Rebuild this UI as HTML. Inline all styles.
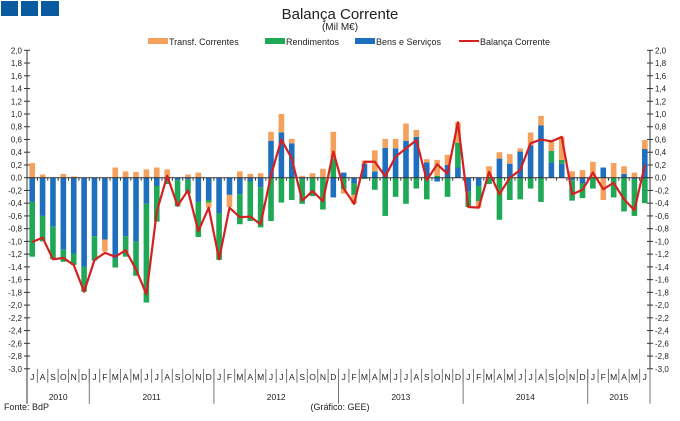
<!DOCTYPE html>
<html><head><meta charset="utf-8"><style>
body{margin:0;background:#fff;width:680px;height:416px;overflow:hidden;font-family:"Liberation Sans",sans-serif}
svg text{font-family:"Liberation Sans",sans-serif}
</style></head><body>
<svg id="c" width="680" height="416" xmlns="http://www.w3.org/2000/svg">
<g>
<rect x="1" y="1" width="17" height="15" fill="#0a5aa0"/><rect x="21" y="1" width="17" height="15" fill="#0a5aa0"/><rect x="41" y="1" width="18" height="15" fill="#0a5aa0"/>
</g>
<text x="340" y="19" font-size="15" text-anchor="middle" fill="#222">Balança Corrente</text>
<text x="340" y="30" font-size="10" text-anchor="middle" fill="#222">(Mil M€)</text>
<g font-size="9" fill="#222">
<g><rect x="148" y="38" width="20" height="6" fill="#f4a15e"/><text x="169" y="45">Transf. Correntes</text></g>
<g><rect x="265" y="38" width="20" height="6" fill="#1fa855"/><text x="286" y="45">Rendimentos</text></g>
<g><rect x="355" y="38" width="20" height="6" fill="#1f6fbf"/><text x="376" y="45">Bens e Serviços</text></g>
<g><rect x="459" y="40" width="20" height="2" fill="#d42020"/><text x="480" y="45">Balança Corrente</text></g>
</g>
<g id="plot"></g>
<text x="4" y="410" font-size="9" fill="#222">Fonte: BdP</text>
<text x="340" y="410" font-size="9" text-anchor="middle" fill="#222">(Gráfico: GEE)</text>
</svg>
<script>
const months=["J","A","S","O","N","D","J","F","M","A","M","J","J","A","S","O","N","D","J","F","M","A","M","J","J","A","S","O","N","D","J","F","M","A","M","J","J","A","S","O","N","D","J","F","M","A","M","J","J","A","S","O","N","D","J","F","M","A","M","J"];
const years=["2010","2011","2012","2013","2014","2015"];
const bens=[-0.38,-0.6,-0.77,-1.13,-1.19,-1.4,-0.92,-0.97,-1.27,-0.92,-1.0,-0.41,-0.13,-0.05,-0.04,-0.03,-0.38,-0.35,-0.56,-0.27,-0.26,-0.06,-0.15,0.58,0.71,0.54,-0.02,0.0,0.0,-0.31,0.08,-0.09,0.22,0.1,0.47,0.46,0.58,0.64,0.24,-0.06,0.2,0.16,-0.22,-0.13,0.0,0.3,0.22,0.41,0.51,0.82,0.24,0.22,-0.04,-0.09,0.0,0.16,0.0,0.06,-0.02,0.45];
const rend=[-0.86,-0.4,-0.51,-0.19,-0.18,-0.39,-0.38,0,-0.14,-0.32,-0.54,-1.55,-0.56,-0.05,-0.41,-0.22,-0.55,-0.04,-0.73,0,-0.47,-0.62,-0.63,-0.68,-0.39,-0.35,-0.39,-0.29,-0.5,0.3,-0.18,-0.18,-0.02,-0.19,-0.6,-0.3,-0.41,-0.17,-0.34,0.03,-0.3,0.39,-0.24,-0.24,-0.1,-0.66,-0.35,-0.34,-0.17,-0.38,0.18,0.06,-0.32,-0.23,-0.17,0,-0.31,-0.53,-0.58,-0.4];
const transf=[0.23,0.05,0,0.06,0.02,0,0,-0.19,0.16,0.1,0.09,0.13,0.16,0.13,0,0.05,0.08,-0.08,0,-0.19,0.1,0.06,0.07,0.14,0.29,0.07,0.03,0.07,0.14,0.42,-0.07,-0.14,0.05,0.33,0.14,0.15,0.27,0.11,0.05,0.25,0.16,0.32,0,-0.1,0.18,0.1,0.15,0.05,0.2,0.15,0.15,0.36,0.1,0.12,0.25,-0.35,0.23,0.12,0.08,0.14];
const balanca=[-1.01,-0.94,-1.28,-1.26,-1.37,-1.79,-1.29,-1.18,-1.24,-1.14,-1.44,-1.83,-0.53,0.03,-0.44,-0.2,-0.84,-0.47,-1.28,-0.47,-0.62,-0.61,-0.73,0.04,0.6,0.3,-0.36,-0.21,-0.37,0.41,-0.17,-0.41,0.25,0.25,0.02,0.33,0.46,0.59,-0.04,0.21,0.06,0.87,-0.46,-0.47,0.09,-0.26,0.0,0.12,0.54,0.6,0.57,0.64,-0.26,-0.19,0.08,-0.18,-0.08,-0.34,-0.51,0.2];
const ticks=[2.0,1.8,1.6,1.4,1.2,1.0,0.8,0.6,0.4,0.2,0.0,-0.2,-0.4,-0.6,-0.8,-1.0,-1.2,-1.4,-1.6,-1.8,-2.0,-2.2,-2.4,-2.6,-2.8,-3.0];
const X0=27,X1=650,step=(X1-X0)/60,Y0=177.7,K=63.7;
const y=v=>Y0-v*K, xc=i=>X0+step*(i+0.5);
const NS="http://www.w3.org/2000/svg",P=document.getElementById('plot');
function mk(t,a,parent){const e=document.createElementNS(NS,t);for(const k in a)e.setAttribute(k,a[k]);(parent||P).appendChild(e);return e;}
const fmt=v=>v.toFixed(1).replace('.',',');
// axes
let ax=mk('line',{x1:X0,y1:y(2),x2:X0,y2:y(-3),stroke:'#333'});


let ax2=mk('line',{x1:X1,y1:y(2),x2:X1,y2:y(-3),stroke:'#333'});


ticks.forEach(t=>{
 mk('line',{x1:X0-3,y1:y(t),x2:X0+3,y2:y(t),stroke:'#333'});
 mk('line',{x1:X1-3,y1:y(t),x2:X1+3,y2:y(t),stroke:'#333'});
 let l=mk('text',{x:X0-5,y:y(t)+3,'font-size':8,'text-anchor':'end',fill:'#222'});l.textContent=fmt(t);
 
 
 let r=mk('text',{x:X1+5,y:y(t)+3,'font-size':8,fill:'#222'});r.textContent=fmt(t);
 
 
});
// bars
const bw=5.6;
for(let i=0;i<60;i++){
 let pos=0,neg=0;
 [[bens[i],'#1f6fbf','bar-bens'],[rend[i],'#1fa855','bar-rendimentos'],[transf[i],'#f4a15e','bar-transf']].forEach(([v,c,n])=>{
  if(!v)return;let a,b;
  if(v>0){a=pos;b=pos+v;pos=b;}else{a=neg;b=neg+v;neg=b;}
  const r=mk('rect',{x:xc(i)-bw/2,y:Math.min(y(a),y(b)),width:bw,height:Math.abs(y(a)-y(b)),fill:c});
  
  
 });
}
// zero line
let z=mk('line',{x1:X0,y1:Y0,x2:X1,y2:Y0,stroke:'#333'});


for(let i=0;i<=60;i++)mk('line',{x1:X0+step*i,y1:Y0,x2:X0+step*i,y2:Y0+3,stroke:'#333'});
// line
const ln=mk('polyline',{points:balanca.map((v,i)=>xc(i)+','+y(v)).join(' '),fill:'none',stroke:'#d42020','stroke-width':2.2,'stroke-linejoin':'round'});


// x axis
const yb=y(-3);
months.forEach((m,i)=>{
 const t=mk('text',{x:xc(i),y:yb+11,'font-size':8.5,'text-anchor':'middle',fill:'#222'});t.textContent=m;
 
 
 mk('line',{x1:X0+step*(i+1),y1:yb,x2:X0+step*(i+1),y2:yb+14,stroke:'#777'});
});
const starts=[0,6,18,30,42,54],ends=[6,18,30,42,54,60];
years.forEach((yr,k)=>{
 const t=mk('text',{x:X0+step*(starts[k]+ends[k])/2,y:yb+31,'font-size':8.5,'text-anchor':'middle',fill:'#222'});t.textContent=yr;
 
 
 mk('line',{x1:X0+step*ends[k],y1:yb,x2:X0+step*ends[k],y2:yb+35,stroke:'#777'});
});
mk('line',{x1:X0,y1:yb,x2:X0,y2:yb+35,stroke:'#333'});
</script>
</body></html>
